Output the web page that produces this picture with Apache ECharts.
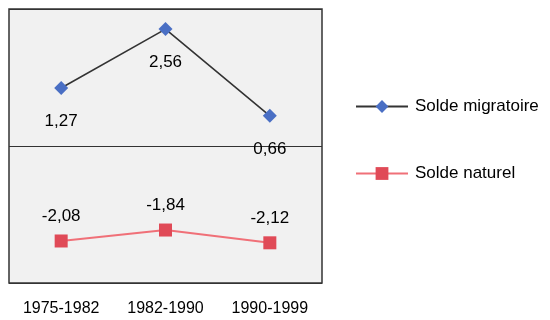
<!DOCTYPE html>
<html><head><meta charset="utf-8">
<script src="https://cdn.jsdelivr.net/npm/echarts@6/dist/echarts.min.js"></script>
<style>html,body{margin:0;padding:0;background:#fff}#c{width:550px;height:320px}</style>
</head><body><div id="c"></div>
<script>
var categories = ['1975-1982', '1982-1990', '1990-1999'];
var migratoire = [1.27, 2.56, 0.66];
var naturel = [-2.08, -1.84, -2.12];
var seriesNames = ['Solde migratoire', 'Solde naturel'];
var yMin = -3, yMax = 3;

var FONT = "'Liberation Sans', Arial, sans-serif";
function fmt(p){ return String(p.value).replace('.', ','); }
var chart = echarts.init(document.getElementById('c'));
chart.setOption({
  animation: false,
  backgroundColor: '#fff',
  grid: { left: 9, right: 228, top: 9, bottom: 37, show: true, backgroundColor: '#f1f1f1', borderColor: '#333', borderWidth: 1.5 },
  legend: {
    orient: 'vertical', left: 350, top: 93, itemWidth: 52, itemHeight: 16, itemGap: 50,
    textStyle: { fontFamily: FONT, fontSize: 17, color: '#000', padding: [0,0,0,2] },
    data: seriesNames
  },
  xAxis: {
    type: 'category', data: categories, boundaryGap: true,
    axisLine: { show: false }, axisTick: { show: false },
    axisLabel: { interval: 0, fontFamily: FONT, fontSize: 16, color: '#000', margin: 18 }
  },
  yAxis: {
    type: 'value', min: yMin, max: yMax, interval: 3,
    axisLine: { show: false }, axisTick: { show: false }, axisLabel: { show: false },
    splitLine: { lineStyle: { color: '#333', width: 1.2 } }
  },
  series: [
    {
      name: seriesNames[0], type: 'line', data: migratoire,
      symbol: 'diamond', symbolSize: 14,
      itemStyle: { color: '#4a6fc4' },
      lineStyle: { color: '#333', width: 1.6 },
      label: { show: true, position: 'bottom', distance: 18, formatter: fmt, fontFamily: FONT, fontSize: 17, color: '#000' }
    },
    {
      name: seriesNames[1], type: 'line', data: naturel,
      symbol: 'rect', symbolSize: 13,
      itemStyle: { color: '#e04a57' },
      lineStyle: { color: '#f07078', width: 2 },
      label: { show: true, position: 'top', distance: 10, formatter: fmt, fontFamily: FONT, fontSize: 17, color: '#000' }
    }
  ]
});
</script></body></html>
